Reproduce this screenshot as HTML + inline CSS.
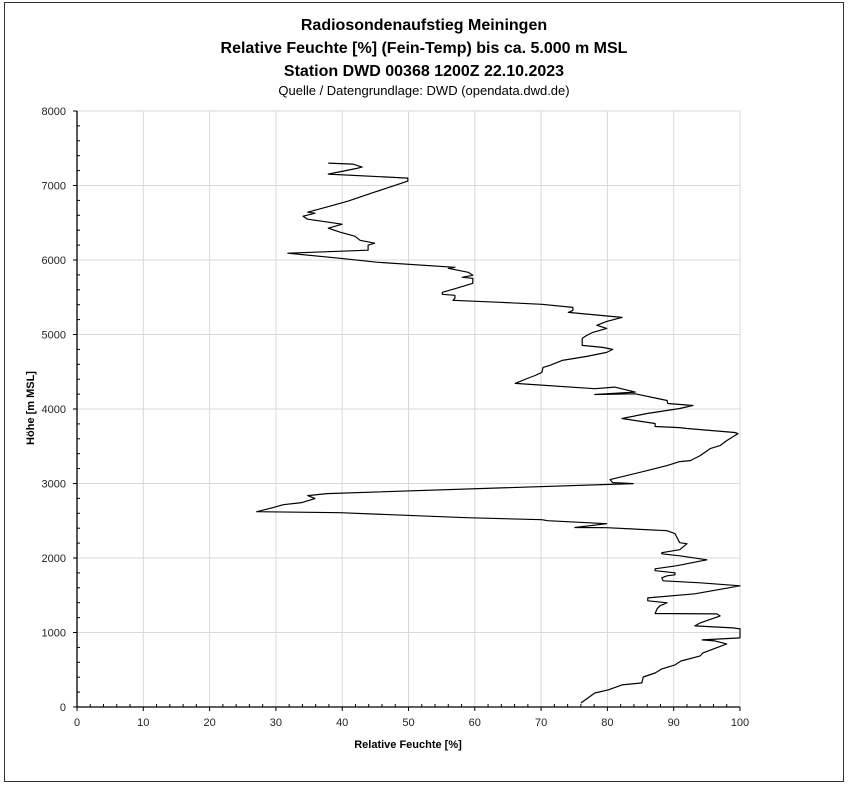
<!DOCTYPE html>
<html><head><meta charset="utf-8"><style>
html,body{margin:0;padding:0;background:#fff;}
svg{display:block;font-family:"Liberation Sans",Arial,sans-serif;}
</style></head><body>
<svg id="chart" width="848" height="786" viewBox="0 0 848 786" xmlns="http://www.w3.org/2000/svg">
<rect x="4.5" y="2.5" width="839" height="779" fill="#fff" stroke="#333" stroke-width="1"/>
<text x="424" y="30" text-anchor="middle" font-size="16" font-weight="bold">Radiosondenaufstieg Meiningen</text>
<text x="424" y="53" text-anchor="middle" font-size="16" font-weight="bold">Relative Feuchte [%] (Fein-Temp) bis ca. 5.000 m MSL</text>
<text x="424" y="76" text-anchor="middle" font-size="16" font-weight="bold">Station DWD 00368 1200Z 22.10.2023</text>
<text x="424" y="95" text-anchor="middle" font-size="13">Quelle / Datengrundlage: DWD (opendata.dwd.de)</text>
<g id="grid"></g>
<g id="axes"></g>
<g id="series"></g>
<text x="408" y="748" text-anchor="middle" font-size="11" font-weight="bold">Relative Feuchte [%]</text>
<text transform="translate(34,408) rotate(-90)" text-anchor="middle" font-size="11" font-weight="bold">Höhe [m MSL]</text>
</svg>
<script>
const xTicks=[0,10,20,30,40,50,60,70,80,90,100];
const yTicks=[0,1000,2000,3000,4000,5000,6000,7000,8000];
const rh=[76.0,78.1,80.1,82.2,85.2,85.4,87.2,88.2,90.2,91.1,94.0,94.4,98.0,96.2,94.3,100,100,98.9,93.2,94.0,97.0,96.5,87.2,87.5,87.9,89.0,86.1,86.1,93.2,100,94.0,88.4,88.2,89.0,90.2,90.2,87.2,87.2,90.5,95.0,90.9,88.2,88.2,90.9,92.0,90.9,90.2,89.0,79.9,75.1,79.9,71.0,70.1,58.8,39.7,27.1,29.6,31.1,33.9,35.9,34.8,37.7,83.9,80.8,80.4,86.0,89.0,90.9,92.5,94.0,95.5,97.0,98.0,99.7,99.2,92.0,90.9,87.2,87.2,82.2,86.0,90.9,92.9,89.1,89.0,84.2,78.1,84.2,81.1,78.1,66.1,67.9,69.1,70.1,70.3,71.3,73.2,76.9,79.9,80.8,79.3,76.2,76.2,76.9,77.8,79.9,78.4,79.9,82.2,74.1,74.8,74.8,70.1,63.8,56.7,57.0,57.0,55.1,55.1,56.7,59.7,59.7,58.1,59.7,59.0,56.0,57.0,45.2,39.7,31.8,43.9,43.9,44.9,42.7,41.9,39.7,37.9,40.0,34.8,34.1,35.9,34.8,38.2,40.9,44.9,49.0,49.9,49.9,37.9,42.4,43.0,41.6,37.9];
const height=[54,188,229,296,323,403,457,511,565,618,686,726,847,887,901,928,1049,1062,1089,1129,1223,1250,1255,1318,1358,1398,1425,1465,1519,1627,1667,1694,1734,1761,1775,1802,1829,1855,1896,1976,2030,2057,2071,2111,2192,2205,2326,2366,2407,2410,2460,2501,2514,2541,2608,2622,2676,2716,2743,2797,2837,2864,2998,3012,3052,3173,3240,3294,3307,3375,3469,3509,3576,3670,3684,3738,3751,3765,3805,3872,3939,4007,4047,4074,4114,4204,4195,4227,4294,4272,4343,4410,4450,4491,4558,4585,4652,4706,4760,4800,4827,4854,4948,4988,5028,5082,5123,5176,5230,5297,5324,5364,5405,5432,5459,5486,5526,5539,5566,5607,5687,5754,5768,5795,5835,5889,5902,5970,6023,6091,6131,6198,6225,6265,6319,6373,6427,6480,6548,6588,6628,6642,6723,6790,6911,7032,7059,7099,7153,7233,7247,7287,7301];
const X0=77,X1=740,Y0=707,Y1=111;
function sx(v){return X0+(v-0)/100*(X1-X0);}
function sy(v){return Y0-(v-0)/8000*(Y0-Y1);}
const NS='http://www.w3.org/2000/svg';
function mk(tag,parent,attrs){const e=document.createElementNS(NS,tag);for(const k in attrs)e.setAttribute(k,attrs[k]);parent.appendChild(e);return e;}
const grid=document.getElementById('grid'),axes=document.getElementById('axes'),series=document.getElementById('series');
xTicks.forEach(t=>{if(t===0)return;const l=mk('line',grid,{x1:sx(t),x2:sx(t),y1:Y1,y2:Y0,stroke:'#d9d9d9','stroke-width':1});

});
yTicks.forEach(t=>{if(t===0)return;const l=mk('line',grid,{x1:X0,x2:X1,y1:sy(t),y2:sy(t),stroke:'#d9d9d9','stroke-width':1});

});
for(let v=0;v<=100;v+=2){const major=v%10===0;const l=mk('line',axes,{x1:sx(v),x2:sx(v),y1:major?Y0:Y0-3,y2:major?Y0+4:Y0,stroke:'#000','stroke-width':1});

}
for(let v=0;v<=8000;v+=200){const major=v%1000===0;const l=mk('line',axes,{x1:major?X0-4:X0,x2:major?X0:X0+3,y1:sy(v),y2:sy(v),stroke:'#000','stroke-width':1});

}
const xa=mk('line',axes,{x1:X0,x2:X1,y1:Y0,y2:Y0,stroke:'#000','stroke-width':1.3});


const ya=mk('line',axes,{x1:X0,x2:X0,y1:Y1,y2:Y0,stroke:'#000','stroke-width':1.3});


xTicks.forEach(t=>{const tx=mk('text',axes,{x:sx(t),y:Y0+19,'text-anchor':'middle','font-size':11,fill:'#222'});tx.textContent=String(t);

});
yTicks.forEach(t=>{const tx=mk('text',axes,{x:X0-11,y:sy(t)+4,'text-anchor':'end','font-size':11,fill:'#222'});tx.textContent=String(t);

});
const pts=rh.map((v,i)=>sx(v).toFixed(1)+','+sy(height[i]).toFixed(1)).join(' ');
const pl=mk('polyline',series,{points:pts,fill:'none',stroke:'#000','stroke-width':1.2,'stroke-linejoin':'round'});


</script>
</body></html>
